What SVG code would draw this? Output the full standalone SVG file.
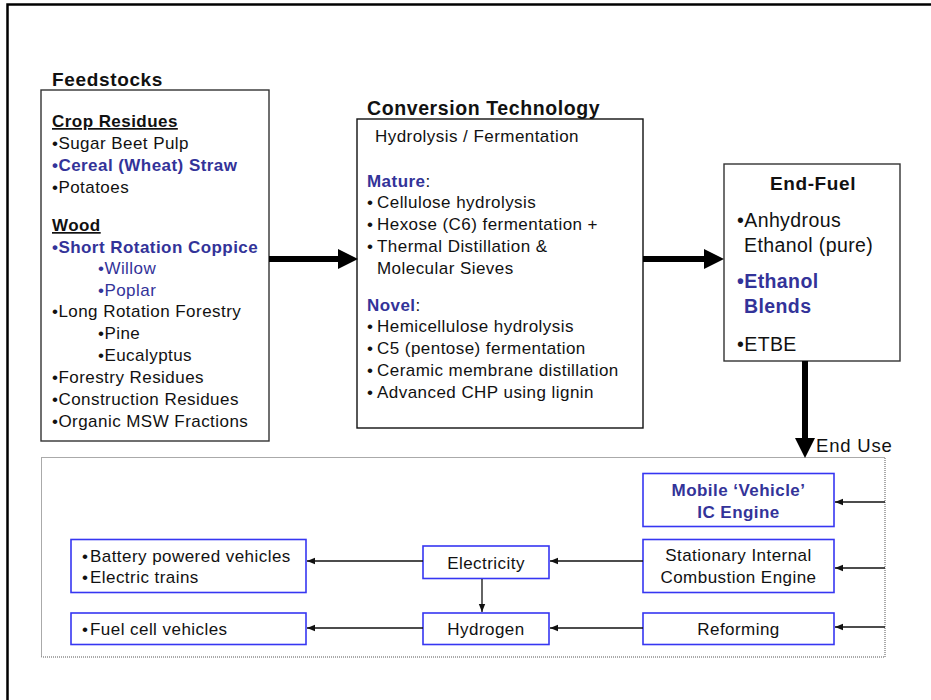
<svg xmlns="http://www.w3.org/2000/svg" width="931" height="700" viewBox="0 0 931 700">
  <defs>
    <style>
      text { font-family: "Liberation Sans", Arial, sans-serif; fill: #111; }
      .body { font-size: 17px; letter-spacing: 0.45px; }
      .big { font-size: 19.5px; letter-spacing: 0.4px; }
      .title { font-size: 19px; font-weight: bold; letter-spacing: 0.65px; }
      .b { font-weight: bold; }
      .blue { fill: #333399; }
      .u { text-decoration: underline; }
      .mid { text-anchor: middle; }
      .box { fill: #fff; stroke: #333; stroke-width: 1.4; }
      .ubox { fill: #fff; stroke: #3636f2; stroke-width: 1.6; }
      .thin { stroke: #111; stroke-width: 1.3; fill: none; marker-end: url(#tip); }
      .thick { stroke: #000; stroke-width: 6; fill: none; }
    </style>
    <marker id="tip" markerUnits="userSpaceOnUse" markerWidth="8" markerHeight="8" viewBox="0 0 8 8" refX="8" refY="4" orient="auto">
      <path d="M0,0.8 L8,4 L0,7.2 z" fill="#111"/>
    </marker>
    <marker id="head" markerUnits="userSpaceOnUse" markerWidth="20" markerHeight="20" viewBox="0 0 20 20" refX="0" refY="10" orient="auto">
      <path d="M0,0 L20,10 L0,20 z" fill="#000"/>
    </marker>
  </defs>

  <!-- page frame -->
  <path d="M7.5,700 V4.5 H931" fill="none" stroke="#000" stroke-width="2.5"/>

  <!-- end use area -->
  <rect id="end-use-area" x="41.5" y="457.5" width="843.5" height="199.5" fill="none" stroke="#555" stroke-width="1" stroke-dasharray="1,1"/>

  <g id="feedstocks">
    <text class="title" x="52" y="86">Feedstocks</text>
    <rect class="box" x="41" y="90" width="228" height="351"/>
    <text class="body b u" x="52" y="127">Crop Residues</text>
    <text class="body" x="52" y="149">•Sugar Beet Pulp</text>
    <text class="body b blue" x="52" y="171">•Cereal (Wheat) Straw</text>
    <text class="body" x="52" y="193">•Potatoes</text>
    <text class="body b u" x="52" y="231">Wood</text>
    <text class="body b blue" x="52" y="253">•Short Rotation Coppice</text>
    <text class="body blue" x="98" y="274">•Willow</text>
    <text class="body blue" x="98" y="296">•Poplar</text>
    <text class="body" x="52" y="317">•Long Rotation Forestry</text>
    <text class="body" x="98" y="339">•Pine</text>
    <text class="body" x="98" y="361">•Eucalyptus</text>
    <text class="body" x="52" y="383">•Forestry Residues</text>
    <text class="body" x="52" y="405">•Construction Residues</text>
    <text class="body" x="52" y="427">•Organic MSW Fractions</text>
  </g>

  <g id="conversion">
    <text class="title" x="367" y="115" style="font-size:19.5px;letter-spacing:0.6px">Conversion Technology</text>
    <rect class="box" x="357" y="119" width="286" height="309" style="stroke:#111"/>
    <text class="body" x="375" y="142">Hydrolysis / Fermentation</text>
    <text class="body" x="367" y="187"><tspan class="b blue">Mature</tspan>:</text>
    <text class="body" x="367" y="208">•</text><text class="body" x="377" y="208">Cellulose hydrolysis</text>
    <text class="body" x="367" y="230">•</text><text class="body" x="377" y="230">Hexose (C6) fermentation +</text>
    <text class="body" x="367" y="252">•</text><text class="body" x="377" y="252">Thermal Distillation &amp;</text>
    <text class="body" x="377" y="274">Molecular Sieves</text>
    <text class="body" x="367" y="311"><tspan class="b blue">Novel</tspan>:</text>
    <text class="body" x="367" y="332">•</text><text class="body" x="377" y="332">Hemicellulose hydrolysis</text>
    <text class="body" x="367" y="354">•</text><text class="body" x="377" y="354">C5 (pentose) fermentation</text>
    <text class="body" x="367" y="376">•</text><text class="body" x="377" y="376">Ceramic membrane distillation</text>
    <text class="body" x="367" y="398">•</text><text class="body" x="377" y="398">Advanced CHP using lignin</text>
  </g>

  <g id="end-fuel">
    <rect class="box" x="724" y="164" width="176" height="197"/>
    <text class="title mid" x="813" y="190" style="letter-spacing:0.6px">End-Fuel</text>
    <text class="big" x="737" y="227">•Anhydrous</text>
    <text class="big" x="744" y="252">Ethanol (pure)</text>
    <text class="big b blue" x="737" y="288">•Ethanol</text>
    <text class="big b blue" x="744" y="313">Blends</text>
    <text class="big" x="737" y="351">•ETBE</text>
  </g>

  <text id="end-use-label" x="816" y="452" style="font-size:18.5px;letter-spacing:0.8px">End Use</text>

  <g id="mobile-ic">
    <rect class="ubox" x="643" y="473.5" width="191" height="53"/>
    <text class="body b blue mid" x="738.5" y="496">Mobile ‘Vehicle’</text>
    <text class="body b blue mid" x="738.5" y="518">IC Engine</text>
  </g>
  <g id="stationary-ice">
    <rect class="ubox" x="643" y="539.5" width="191" height="53"/>
    <text class="body mid" x="738.5" y="561">Stationary Internal</text>
    <text class="body mid" x="738.5" y="583">Combustion Engine</text>
  </g>
  <g id="reforming">
    <rect class="ubox" x="643" y="613" width="191" height="31.5"/>
    <text class="body mid" x="738.5" y="635">Reforming</text>
  </g>
  <g id="electricity">
    <rect class="ubox" x="423" y="546" width="126" height="32.5"/>
    <text class="body mid" x="486" y="569">Electricity</text>
  </g>
  <g id="hydrogen">
    <rect class="ubox" x="423" y="613" width="126" height="31.5"/>
    <text class="body mid" x="486" y="635">Hydrogen</text>
  </g>
  <g id="electric-vehicles">
    <rect class="ubox" x="71" y="539.5" width="235" height="53"/>
    <text class="body" x="82" y="562">•</text><text class="body" x="90" y="562">Battery powered vehicles</text>
    <text class="body" x="82" y="583">•</text><text class="body" x="90" y="583">Electric trains</text>
  </g>
  <g id="fuel-cell-vehicles">
    <rect class="ubox" x="71" y="613" width="235" height="31.5"/>
    <text class="body" x="82" y="635">•</text><text class="body" x="90" y="635">Fuel cell vehicles</text>
  </g>

  <g id="connectors">
    <line class="thick" x1="269" y1="259" x2="338" y2="259" marker-end="url(#head)"/>
    <line class="thick" x1="643" y1="259" x2="704" y2="259" marker-end="url(#head)"/>
    <line class="thick" x1="805" y1="361" x2="805" y2="438" marker-end="url(#head)"/>
    <line class="thin" x1="885" y1="502" x2="835" y2="502"/>
    <line class="thin" x1="885" y1="568" x2="835" y2="568"/>
    <line class="thin" x1="885" y1="627" x2="835" y2="627"/>
    <line class="thin" x1="643" y1="561" x2="550" y2="561"/>
    <line class="thin" x1="643" y1="628" x2="550" y2="628"/>
    <line class="thin" x1="423" y1="561" x2="307" y2="561"/>
    <line class="thin" x1="423" y1="628" x2="307" y2="628"/>
    <line class="thin" x1="482" y1="579" x2="482" y2="612"/>
  </g>
</svg>
